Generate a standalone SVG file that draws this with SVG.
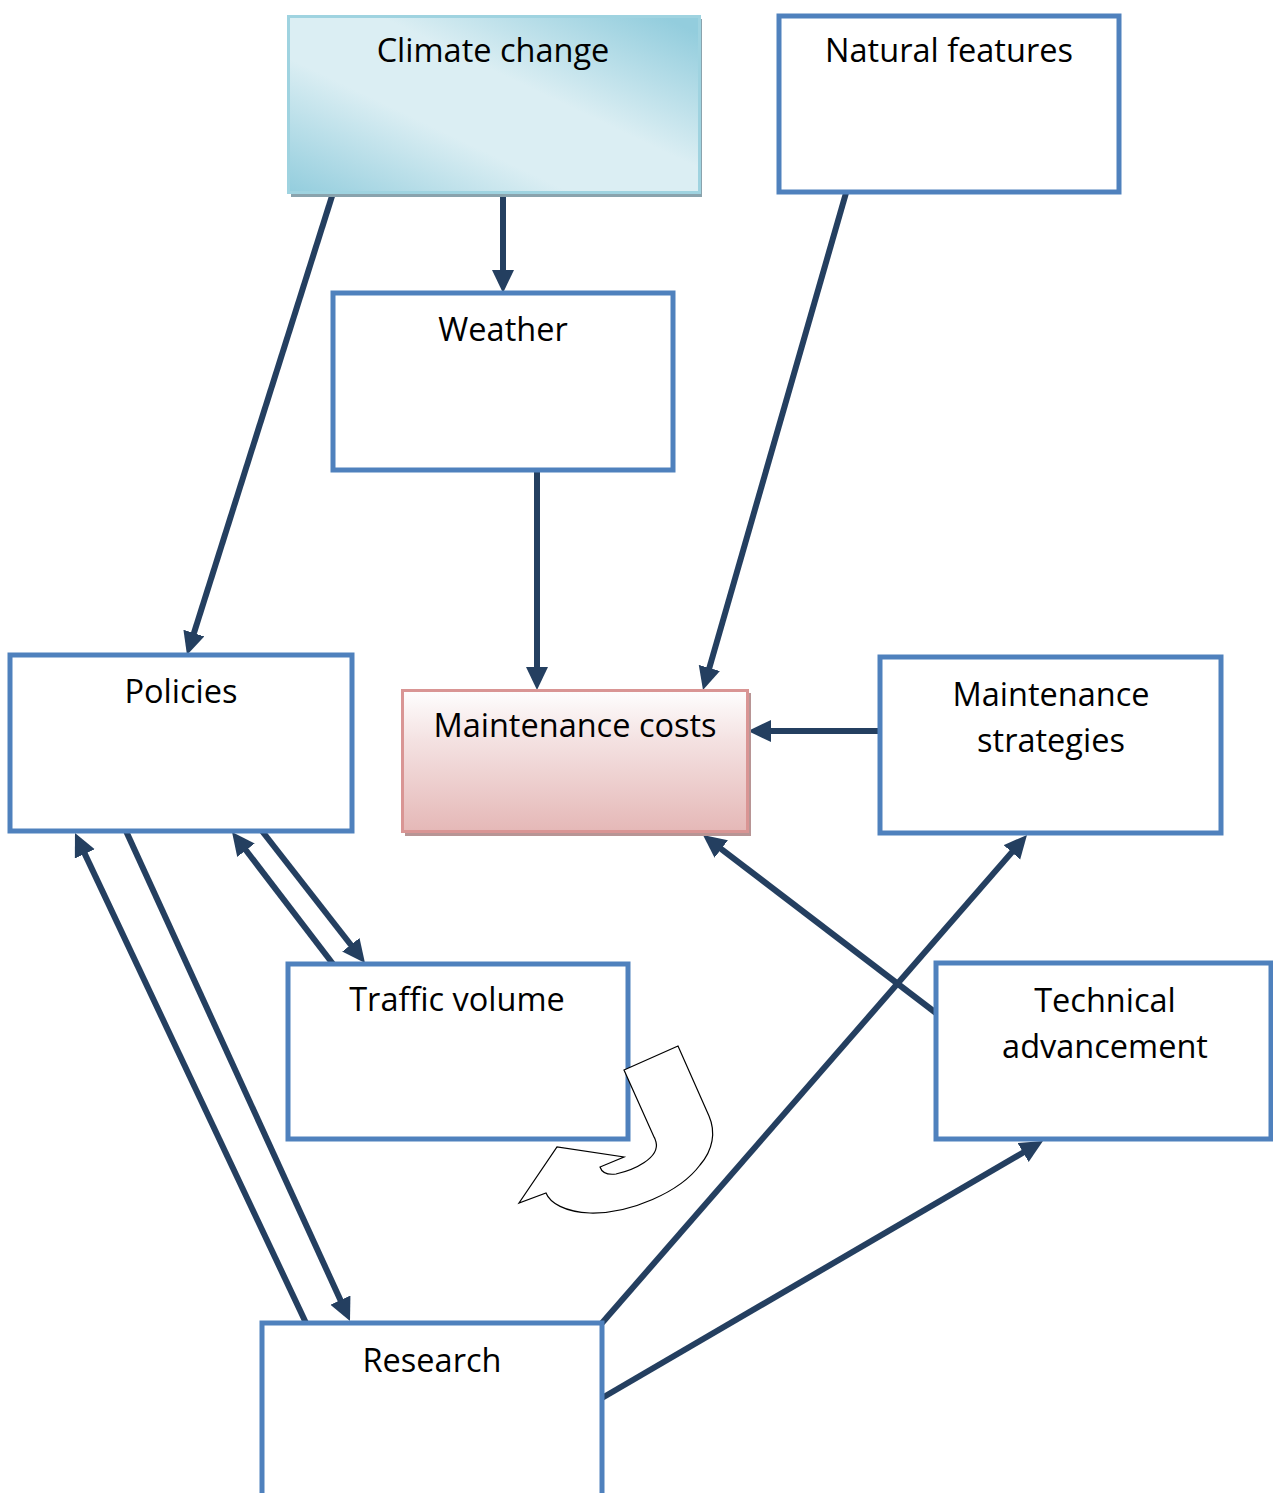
<svg xmlns="http://www.w3.org/2000/svg" width="1273" height="1493" viewBox="0 0 1273 1493">
<style>
.box{fill:#ffffff;stroke:#4f81bd;stroke-width:5}
.lbl{font-family:"Open Sans","Liberation Sans",sans-serif;font-size:32.5px;fill:#000;text-anchor:middle}
.con{stroke:#243f60;stroke-width:6;fill:none}
.arr{marker-end:url(#ah)}
</style>
<defs>
<marker id="ah" markerUnits="userSpaceOnUse" markerWidth="26" markerHeight="24" refX="11" refY="11" orient="auto">
<path d="M0,0 L23,11 L0,22 Z" fill="#243f60"/>
</marker>
<linearGradient id="gBlue" x1="0" y1="1" x2="1" y2="0.1">
<stop offset="0" stop-color="#93cddd"/>
<stop offset="0.38" stop-color="#dbeef3"/>
<stop offset="0.62" stop-color="#dbeef3"/>
<stop offset="1" stop-color="#93cddd"/>
</linearGradient>
<linearGradient id="gPink" x1="0" y1="0" x2="0" y2="1">
<stop offset="0" stop-color="#fefefe"/>
<stop offset="0.35" stop-color="#f4e2e2"/>
<stop offset="1" stop-color="#e5b8b7"/>
</linearGradient>
</defs>

<g id="connectors">
<line class="con arr" x1="503" y1="193" x2="503" y2="281"/>
<line class="con arr" x1="333" y1="193" x2="190.6" y2="643.6"/>
<line class="con arr" x1="846" y1="193" x2="706.3" y2="678.5"/>
<line class="con arr" x1="537" y1="470" x2="537" y2="678"/>
<line class="con arr" x1="880" y1="731" x2="760" y2="731"/>
<line class="con arr" x1="936" y1="1013" x2="712.5" y2="842.3"/>
<line class="con arr" x1="602" y1="1323" x2="1019.1" y2="844"/>
<line class="con arr" x1="602" y1="1398" x2="1032.6" y2="1147"/>
<line class="con arr" x1="306" y1="1323" x2="80.1" y2="843.9"/>
<line class="con arr" x1="126" y1="831" x2="345" y2="1310.1"/>
<line class="con arr" x1="333" y1="964" x2="239.3" y2="841.5"/>
<line class="con arr" x1="262" y1="831" x2="357.6" y2="953.5"/>
</g>

<g id="climate-change">
<rect x="291" y="19" width="411" height="178" fill="#8aa3ad"/>
<rect x="288.5" y="16.5" width="411" height="176" fill="url(#gBlue)" stroke="#9fd3e0" stroke-width="3"/>
<text class="lbl" x="493" y="62">Climate change</text>
</g>

<g id="natural-features">
<rect class="box" x="779" y="16" width="340" height="176"/>
<text class="lbl" x="949" y="62">Natural features</text>
</g>

<g id="weather">
<rect class="box" x="333" y="293" width="340" height="177"/>
<text class="lbl" x="503" y="341">Weather</text>
</g>

<g id="policies">
<rect class="box" x="10" y="655" width="342" height="176"/>
<text class="lbl" x="181" y="703">Policies</text>
</g>

<g id="maintenance-costs">
<rect x="405" y="693" width="346" height="143" fill="#b89595"/>
<rect x="402.5" y="690.5" width="345" height="141" fill="url(#gPink)" stroke="#d99594" stroke-width="3"/>
<text class="lbl" x="575" y="737">Maintenance costs</text>
</g>

<g id="maintenance-strategies">
<rect class="box" x="880" y="657" width="341" height="176"/>
<text class="lbl" x="1051" y="706">Maintenance</text>
<text class="lbl" x="1051" y="752">strategies</text>
</g>

<g id="traffic-volume">
<rect class="box" x="288" y="964" width="340" height="175"/>
<text class="lbl" x="457" y="1011">Traffic volume</text>
</g>

<g id="technical-advancement">
<rect class="box" x="936" y="963" width="335" height="176"/>
<text class="lbl" x="1105" y="1012">Technical</text>
<text class="lbl" x="1105" y="1058">advancement</text>
</g>

<g id="research">
<rect class="box" x="262" y="1323" width="340" height="200"/>
<text class="lbl" x="432" y="1372">Research</text>
</g>

<g id="u-turn-arrow">
<path d="M624,1070 L678,1046 L709,1116 C716,1132 713,1150 700,1165 C680,1192 630,1214 590,1213 C565,1212 550,1203 546,1193 L519,1203 L557,1147 L624,1157 L600,1167 C602,1173 608,1175 616,1174 C634,1170 660,1158 656,1142 C655,1139 655,1138 654,1137 Z" fill="#ffffff" stroke="#000" stroke-width="1.2"/>
</g>
</svg>
